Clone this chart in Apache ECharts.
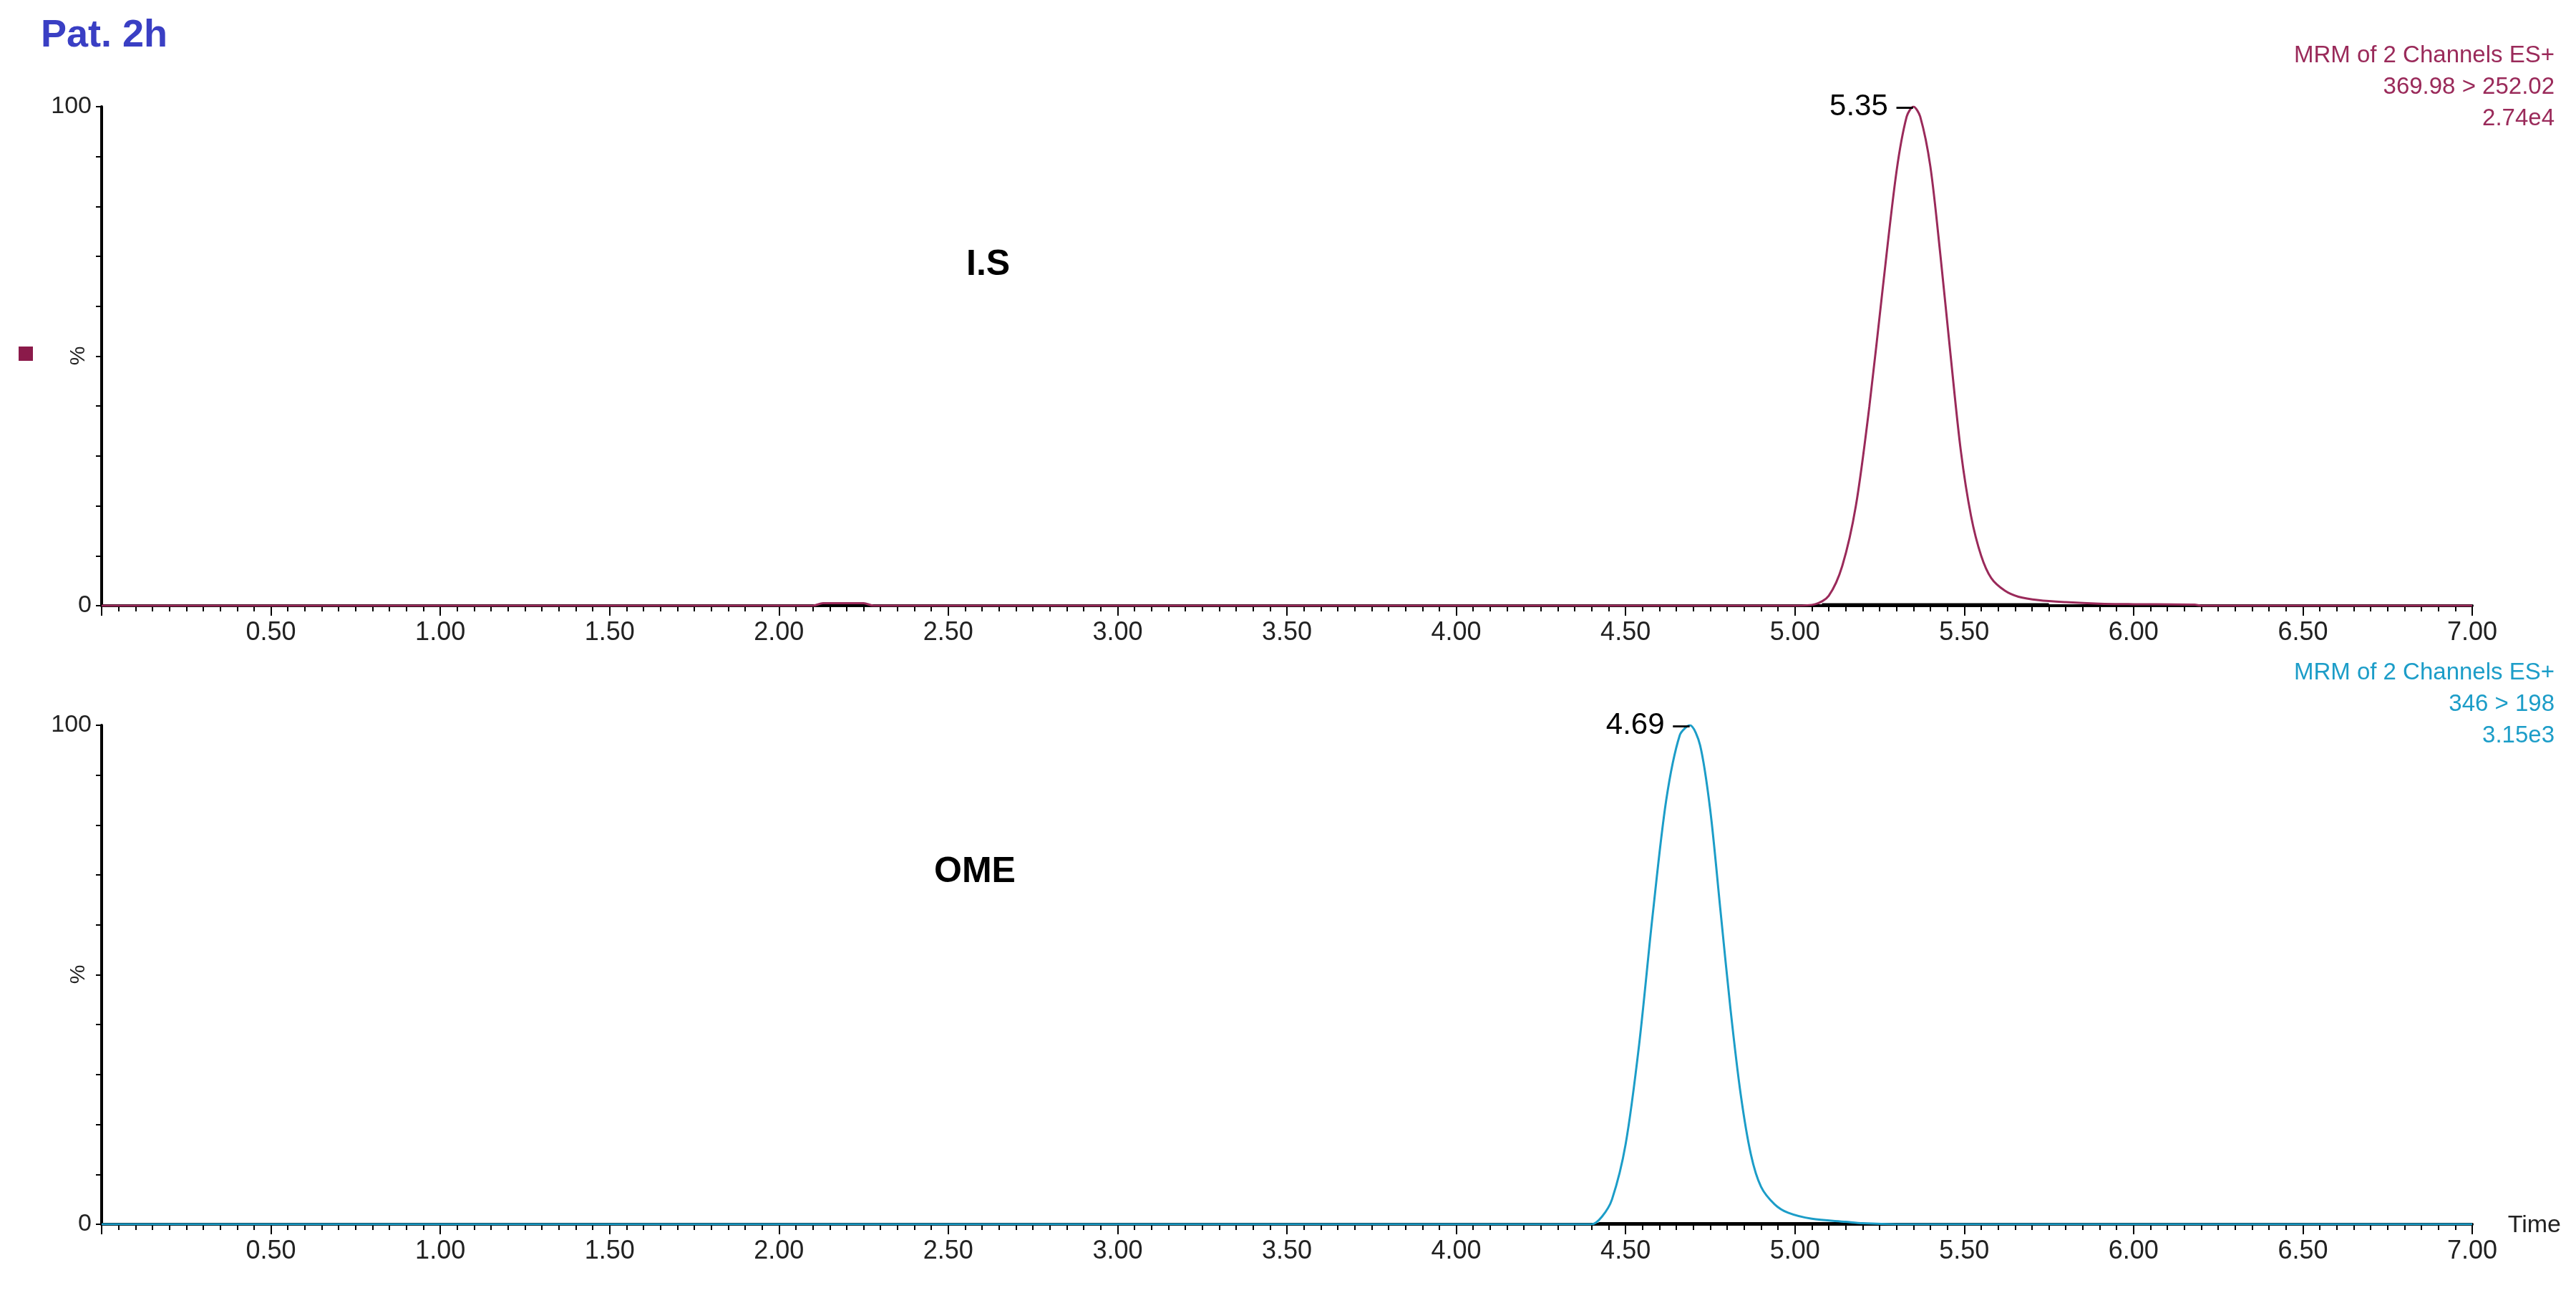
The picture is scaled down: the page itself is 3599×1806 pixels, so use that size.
<!DOCTYPE html>
<html>
<head>
<meta charset="utf-8">
<script src="https://cdn.jsdelivr.net/npm/echarts@6/dist/echarts.min.js"></script>
<style>html,body{margin:0;padding:0;background:#fff}#main{width:3599px;height:1806px}</style>
</head>
<body>
<div id="main"></div>
<script>
// time (min), relative intensity (%)
var isTrace = [
  [0.00, 0], [2.10, 0], [2.13, 0.5], [2.25, 0.5], [2.28, 0], [5.00, 0], [5.06, 0.3], [5.10, 2],
  [5.14, 8], [5.18, 20], [5.22, 40], [5.26, 64], [5.30, 87], [5.33, 98], [5.35, 100],
  [5.37, 98], [5.40, 88], [5.43, 70], [5.46, 50], [5.49, 31], [5.52, 18], [5.55, 10],
  [5.58, 5.5], [5.62, 3], [5.66, 1.8], [5.72, 1.1], [5.80, 0.7], [5.90, 0.4],
  [6.00, 0.3], [6.18, 0.2], [6.20, 0], [7.00, 0]
];
var omeTrace = [
  [0.00, 0], [4.40, 0], [4.43, 1.5], [4.46, 5], [4.50, 16], [4.54, 36], [4.58, 62],
  [4.62, 85], [4.66, 98], [4.69, 100], [4.72, 96], [4.75, 83], [4.78, 63], [4.81, 43],
  [4.84, 26], [4.87, 14], [4.90, 7.5], [4.94, 4], [4.98, 2.3], [5.05, 1.1], [5.15, 0.5],
  [5.20, 0.2], [5.30, 0], [7.00, 0]
];
var isBase = [[5.08, 0.3], [5.75, 0.3]];
var omeBase = [[4.42, 0.2], [5.19, 0.2]];
var isPeak = [5.35, 100];
var omePeak = [4.69, 100];
var isInfo = ['MRM of 2 Channels ES+', '369.98 > 252.02', '2.74e4'];
var omeInfo = ['MRM of 2 Channels ES+', '346 > 198', '3.15e3'];

var isColor = '#9a2a5a', omeColor = '#1c9dc8';
var F = 'Liberation Sans';

function xAx(idx) {
  return {
    type: 'value', gridIndex: idx, min: 0, max: 7, interval: 0.5,
    axisLine: {lineStyle: {color: '#000', width: 4}},
    axisTick: {length: 14, lineStyle: {color: '#000', width: 2}},
    minorTick: {show: true, splitNumber: 10, length: 8, lineStyle: {color: '#000', width: 2}},
    splitLine: {show: false},
    axisLabel: {fontFamily: F, fontSize: 36, color: '#222', margin: 20,
      formatter: function (v) { return v === 0 ? '' : v.toFixed(2); }}
  };
}
function yAx(idx) {
  return {
    type: 'value', gridIndex: idx, min: 0, max: 100, interval: 10,
    axisLine: {show: true, lineStyle: {color: '#000', width: 4}},
    axisTick: {length: 8, lineStyle: {color: '#000', width: 2}},
    splitLine: {show: false},
    axisLabel: {fontFamily: F, fontSize: 34, color: '#222', margin: 14,
      formatter: function (v) { return (v === 0 || v === 100) ? String(v) : ''; }}
  };
}
function peakMark(p) {
  return {
    symbol: 'circle', symbolSize: 1,
    itemStyle: {color: 'rgba(0,0,0,0)'},
    label: {show: true, position: 'left', distance: 0, fontFamily: F, fontSize: 42, color: '#000',
      formatter: p[0].toFixed(2) + ' \u2013'},
    data: [{coord: p}]
  };
}
function infoText(lines, y, color) {
  return {type: 'text', x: 3569, y: y,
    style: {text: lines.join('\n'), fill: color, font: '33px "Liberation Sans"', align: 'right', lineHeight: 44}};
}
function pctText(y) {
  return {type: 'text', x: 110, y: y, rotation: Math.PI / 2, originX: 0, originY: 0,
    style: {text: '%', fill: '#222', font: '30px "Liberation Sans"', align: 'center', verticalAlign: 'middle'}};
}

var chart = echarts.init(document.getElementById('main'));
chart.setOption({
  animation: false,
  backgroundColor: '#fff',
  grid: [
    {left: 142, right: 145, top: 149, height: 697},
    {left: 142, right: 145, top: 1013, height: 697}
  ],
  xAxis: [xAx(0), xAx(1)],
  yAxis: [yAx(0), yAx(1)],
  title: [
    {text: 'Pat. 2h', left: 52, top: 18, textStyle: {fontFamily: F, fontSize: 54, fontWeight: 'bold', color: '#3a3fc4'}},
    {text: 'I.S', left: 1345, top: 340, textStyle: {fontFamily: F, fontSize: 50, fontWeight: 'bold', color: '#000'}},
    {text: 'OME', left: 1300, top: 1188, textStyle: {fontFamily: F, fontSize: 50, fontWeight: 'bold', color: '#000'}},
    {text: 'Time', right: 16, top: 1690, textStyle: {fontFamily: F, fontSize: 34, fontWeight: 'normal', color: '#222'}}
  ],
  graphic: [
    {type: 'rect', shape: {x: 26, y: 484, width: 20, height: 20}, style: {fill: '#8b1a4a'}},
    infoText(isInfo, 56, isColor),
    infoText(omeInfo, 918, omeColor),
    pctText(497),
    pctText(1361)
  ],
  series: [
    {type: 'line', xAxisIndex: 0, yAxisIndex: 0, data: isBase, symbol: 'none',
      lineStyle: {color: '#000', width: 3}},
    {type: 'line', xAxisIndex: 0, yAxisIndex: 0, data: isTrace, symbol: 'none', smooth: 0.3,
      lineStyle: {color: isColor, width: 3}, markPoint: peakMark(isPeak)},
    {type: 'line', xAxisIndex: 1, yAxisIndex: 1, data: omeBase, symbol: 'none',
      lineStyle: {color: '#000', width: 3}},
    {type: 'line', xAxisIndex: 1, yAxisIndex: 1, data: omeTrace, symbol: 'none', smooth: 0.3,
      lineStyle: {color: omeColor, width: 3}, markPoint: peakMark(omePeak)}
  ]
});
</script>
</body>
</html>
